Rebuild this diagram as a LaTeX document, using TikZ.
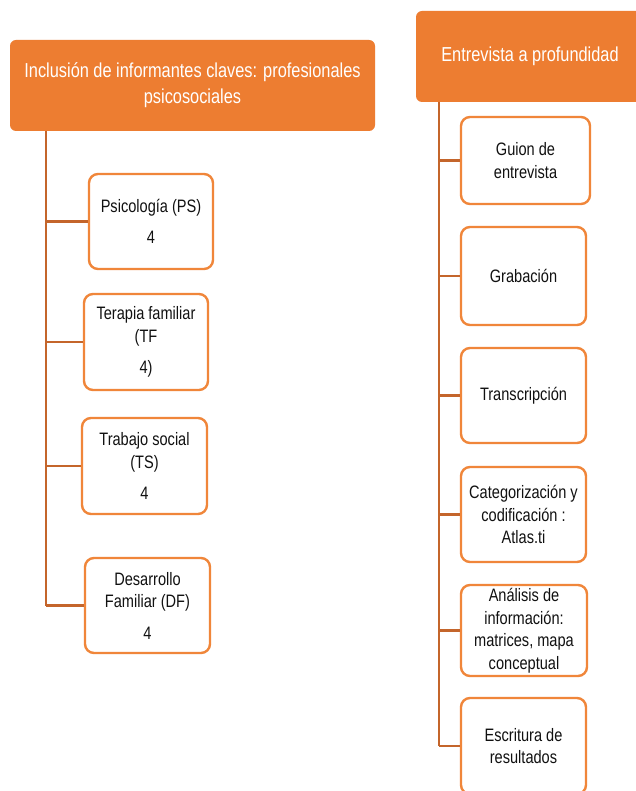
\documentclass[tikz,border=0pt]{standalone}
\usepackage{fontspec}
\setmainfont[FakeStretch=0.81]{Liberation Sans}
\definecolor{hdr}{HTML}{ED7D31}
\definecolor{bord}{HTML}{F0863A}
\definecolor{conn}{HTML}{C4652B}
\definecolor{txt}{HTML}{111111}
\begin{document}
\begin{tikzpicture}[x=1pt,y=-1pt,
  header/.style={fill=hdr,draw=none,rounded corners=6pt,text=white,align=center,
    font=\fontsize{20.2}{26}\selectfont,inner sep=0pt},
  sbox/.style={draw=bord,line width=2.4pt,fill=white,rounded corners=9pt,text=txt,align=center,
    font=\fontsize{18}{22.5}\selectfont,inner sep=0pt},
  connline/.style={draw=conn,line width=2.6pt}]
\clip (0,0) rectangle (636,791);
\fill[white] (0,0) rectangle (636,791);
% headers
\node[header,minimum width=365pt,minimum height=91pt] (hl) at (192.5,85.5)
  {Inclusión de informantes claves: profesionales\\psicosociales};
\node[header,minimum width=228pt,minimum height=91pt] (hr) at (530,56.5)
  {Entrevista a profundidad};
% trunk coordinates
\coordinate (lt) at (46,0);
\coordinate (rt) at (439,0);
% left boxes
\node[sbox,minimum width=124pt,minimum height=95pt] (ps) at (151,221.5) {Psicología (PS)\\[9pt]4};
\node[sbox,minimum width=124pt,minimum height=96pt] (tf) at (146,342) {Terapia familiar\\(TF\\[9pt]4)};
\node[sbox,minimum width=125pt,minimum height=96pt] (ts) at (144.5,466) {Trabajo social\\(TS)\\[9pt]4};
\node[sbox,minimum width=125pt,minimum height=95pt] (df) at (147.5,605.5) {Desarrollo\\Familiar (DF)\\[9pt]4};
% right boxes
\node[sbox,minimum width=129pt,minimum height=87pt] (gu) at (525.5,160.5) {Guion de\\entrevista};
\node[sbox,minimum width=125pt,minimum height=98pt] (gr) at (523.5,276) {Grabación};
\node[sbox,minimum width=125pt,minimum height=95pt] (tr) at (523.5,395.5) {Transcripción};
\node[sbox,minimum width=125pt,minimum height=95pt] (ca) at (523.5,514.5) {Categorización y\\codificación :\\Atlas.ti};
\node[sbox,minimum width=126pt,minimum height=91pt] (an) at (524,630.5) {Análisis de\\información:\\matrices, mapa\\conceptual};
\node[sbox,minimum width=125pt,minimum height=96pt] (es) at (523.5,746) {Escritura de\\resultados};
% connectors left
\draw[connline] (hl.south -| lt) -- (df.west -| lt);
\foreach \n in {ps,tf,ts,df} \draw[connline] (\n.west -| lt) -- (\n.west);
% connectors right
\draw[connline] (hr.south -| rt) -- (es.west -| rt);
\foreach \n in {gu,gr,tr,ca,an,es} \draw[connline] (\n.west -| rt) -- (\n.west);
\end{tikzpicture}
\end{document}
